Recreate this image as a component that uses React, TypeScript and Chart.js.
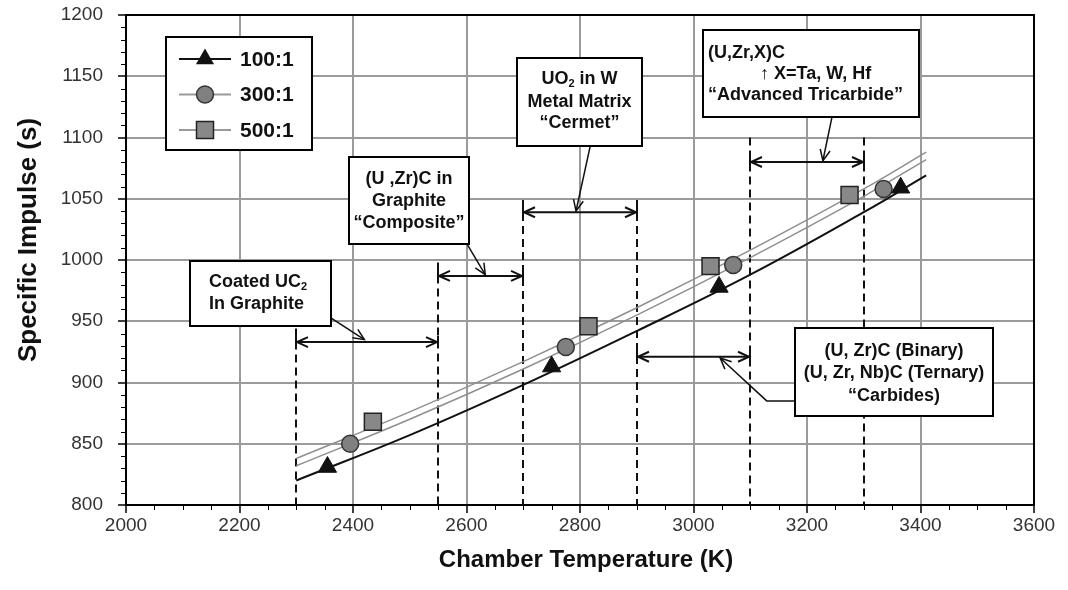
import React, { useEffect, useRef } from 'react';
import { Chart, registerables } from 'chart.js';

Chart.register(...registerables);

// ---------- data ----------
const series100X = [2355, 2750, 3045, 3365];
const series100Y = [831, 913, 978, 1059];
const series300X = [2395, 2775, 3070, 3335];
const series300Y = [850, 929, 996, 1058];
const series500X = [2435, 2815, 3030, 3275];
const series500Y = [868, 946, 995, 1053];

const curveX = [2300, 2500, 2700, 2900, 3100, 3300, 3410];
const curve100 = [820, 857, 898, 942, 988, 1039, 1069];
const curve300 = [832, 870, 911, 955, 1002, 1052, 1082];
const curve500 = [838, 876, 917, 961, 1008, 1058, 1088];

const legendLabels = ['100:1', '300:1', '500:1'];

const xMin = 2000;
const xMax = 3600;
const xStep = 200;
const xMinorStep = 50;
const yMin = 800;
const yMax = 1200;
const yStep = 50;
const yMinorStep = 10;

// technology boundaries (dashed verticals) and their top ends
const boundaryX = [2300, 2550, 2700, 2900, 3100, 3300];
const boundaryTop = [944, 998, 1049, 1049, 1100, 1100];

// temperature ranges (double arrows)
const rangeFrom = [2300, 2550, 2700, 2900, 3100];
const rangeTo = [2550, 2700, 2900, 3100, 3300];
const rangeLevel = [933, 987, 1039, 921, 1080];

// annotation boxes in data coordinates
const boxRects = [
  [2113, 999, 2361, 946],
  [2393, 1084, 2604, 1013],
  [2689, 1165, 2909, 1093],
  [3017, 1188, 3397, 1117],
  [3179, 944.5, 3528, 872.7],
];
const boxTexts = [
  ['Coated UC_2', 'In Graphite'],
  ['(U ,Zr)C in', 'Graphite', '\u201CComposite\u201D'],
  ['UO_2 in W', 'Metal Matrix', '\u201CCermet\u201D'],
  ['(U,Zr,X)C', '\u2191 X=Ta, W, Hf', '\u201CAdvanced Tricarbide\u201D'],
  ['(U, Zr)C (Binary)', '(U, Zr, Nb)C (Ternary)', '\u201CCarbides)'],
];
const leaderPaths = [
  [[2361, 952.7], [2420, 935]],
  [[2601, 1013], [2633, 988]],
  [[2818, 1093], [2793, 1040]],
  [[3244, 1116.7], [3228, 1081]],
  [[3179, 885], [3129, 885], [3047, 920]],
];
const legendRect = [2070, 1182, 2328, 1090];

// ---------- styles ----------
const FONT = "'Liberation Sans', Arial, 'DejaVu Sans', sans-serif";
const boxStyles = [
  { align: 'left', pad: 19, offsets: [21, 43] },
  { align: 'center', pad: 0, offsets: [22, 44, 66] },
  { align: 'center', pad: 0, offsets: [21, 44, 65] },
  { align: 'left', pad: 5, offsets: [23, 44, 65], indents: [0, 52, 0] },
  { align: 'center', pad: 0, offsets: [23, 45, 68] },
];

function drawRichText(ctx: CanvasRenderingContext2D, text: string, x: number, y: number, align: string, size: number) {
  const parts: { t: string; sub: boolean }[] = [];
  const re = /_(\d)/g;
  let last = 0;
  let m: RegExpExecArray | null;
  while ((m = re.exec(text))) {
    if (m.index > last) parts.push({ t: text.slice(last, m.index), sub: false });
    parts.push({ t: m[1], sub: true });
    last = m.index + m[0].length;
  }
  if (last < text.length) parts.push({ t: text.slice(last), sub: false });
  const normal = `bold ${size}px ${FONT}`;
  const small = `bold ${Math.round(size * 0.62)}px ${FONT}`;
  let total = 0;
  parts.forEach((p) => {
    ctx.font = p.sub ? small : normal;
    total += ctx.measureText(p.t).width;
  });
  let cx = align === 'center' ? x - total / 2 : x;
  ctx.textAlign = 'left';
  ctx.textBaseline = 'middle';
  parts.forEach((p) => {
    ctx.font = p.sub ? small : normal;
    ctx.fillText(p.t, cx, p.sub ? y + 5 : y);
    cx += ctx.measureText(p.t).width;
  });
}

function openHead(ctx: CanvasRenderingContext2D, fx: number, fy: number, tx: number, ty: number, len = 11, half = 5) {
  const a = Math.atan2(ty - fy, tx - fx);
  const bx = tx - Math.cos(a) * len;
  const by = ty - Math.sin(a) * len;
  const nx = -Math.sin(a) * half;
  const ny = Math.cos(a) * half;
  ctx.beginPath();
  ctx.moveTo(bx + nx, by + ny);
  ctx.lineTo(tx, ty);
  ctx.lineTo(bx - nx, by - ny);
  ctx.stroke();
}

function marker(ctx: CanvasRenderingContext2D, kind: string, cx: number, cy: number) {
  ctx.save();
  ctx.beginPath();
  if (kind === 'triangle') {
    const r = 10.5;
    ctx.moveTo(cx, cy - r);
    ctx.lineTo(cx + r * Math.sin((2 * Math.PI) / 3), cy + r / 2);
    ctx.lineTo(cx - r * Math.sin((2 * Math.PI) / 3), cy + r / 2);
    ctx.closePath();
    ctx.fillStyle = '#111';
    ctx.fill();
  } else if (kind === 'circle') {
    ctx.arc(cx, cy, 8.5, 0, Math.PI * 2);
    ctx.fillStyle = '#808080';
    ctx.fill();
    ctx.strokeStyle = '#333';
    ctx.lineWidth = 1.5;
    ctx.stroke();
  } else {
    ctx.rect(cx - 8.5, cy - 8.5, 17, 17);
    ctx.fillStyle = '#888';
    ctx.fill();
    ctx.strokeStyle = '#222';
    ctx.lineWidth = 1.5;
    ctx.stroke();
  }
  ctx.restore();
}

const annotPlugin = {
  id: 'annot',
  beforeDatasetsDraw(chart: any) {
    const { ctx, chartArea } = chart;
    const x = chart.scales.x;
    const y = chart.scales.y;
    ctx.save();
    ctx.strokeStyle = '#111';
    ctx.lineWidth = 2;
    ctx.setLineDash([8, 5]);
    boundaryX.forEach((bx, i) => {
      const px = Math.round(x.getPixelForValue(bx));
      ctx.beginPath();
      ctx.moveTo(px, y.getPixelForValue(boundaryTop[i]));
      ctx.lineTo(px, chartArea.bottom);
      ctx.stroke();
    });
    ctx.setLineDash([]);
    rangeFrom.forEach((f, i) => {
      const x1 = Math.round(x.getPixelForValue(f));
      const x2 = Math.round(x.getPixelForValue(rangeTo[i]));
      const py = y.getPixelForValue(rangeLevel[i]);
      ctx.lineWidth = 2;
      ctx.beginPath();
      ctx.moveTo(x1, py);
      ctx.lineTo(x2, py);
      ctx.stroke();
      ctx.beginPath();
      ctx.moveTo(x1, py - 6);
      ctx.lineTo(x1, py + 6);
      ctx.moveTo(x2, py - 6);
      ctx.lineTo(x2, py + 6);
      ctx.stroke();
      openHead(ctx, x2, py, x1 + 1, py);
      openHead(ctx, x1, py, x2 - 1, py);
    });
    ctx.restore();
  },
  afterDatasetsDraw(chart: any) {
    const { ctx, chartArea } = chart;
    const x = chart.scales.x;
    const y = chart.scales.y;
    ctx.save();
    // frame top/right
    ctx.strokeStyle = '#000';
    ctx.lineWidth = 2;
    ctx.beginPath();
    ctx.moveTo(chartArea.left, chartArea.top);
    ctx.lineTo(chartArea.right, chartArea.top);
    ctx.lineTo(chartArea.right, chartArea.bottom);
    ctx.stroke();

    // leaders
    ctx.strokeStyle = '#111';
    ctx.lineWidth = 1.5;
    leaderPaths.forEach((path) => {
      const pts = path.map((p) => [x.getPixelForValue(p[0]), y.getPixelForValue(p[1])]);
      ctx.beginPath();
      pts.forEach((p, i) => (i ? ctx.lineTo(p[0], p[1]) : ctx.moveTo(p[0], p[1])));
      ctx.stroke();
      const a = pts[pts.length - 2];
      const b = pts[pts.length - 1];
      openHead(ctx, a[0], a[1], b[0], b[1], 11, 5);
    });

    // boxes
    boxRects.forEach((r, i) => {
      const l = Math.round(x.getPixelForValue(r[0]));
      const t = Math.round(y.getPixelForValue(r[1]));
      const rr = Math.round(x.getPixelForValue(r[2]));
      const b = Math.round(y.getPixelForValue(r[3]));
      ctx.fillStyle = '#fff';
      ctx.fillRect(l, t, rr - l, b - t);
      ctx.strokeStyle = '#000';
      ctx.lineWidth = 2;
      ctx.strokeRect(l, t, rr - l, b - t);
      const st = boxStyles[i];
      ctx.fillStyle = '#111';
      boxTexts[i].forEach((line, j) => {
        const tx = st.align === 'center' ? (l + rr) / 2 : l + st.pad + ((st as any).indents ? (st as any).indents[j] : 0);
        drawRichText(ctx, line, tx, t + st.offsets[j], st.align, 18);
      });
    });

    // legend
    const ll = Math.round(x.getPixelForValue(legendRect[0]));
    const lt = Math.round(y.getPixelForValue(legendRect[1]));
    const lr = Math.round(x.getPixelForValue(legendRect[2]));
    const lb = Math.round(y.getPixelForValue(legendRect[3]));
    ctx.fillStyle = '#fff';
    ctx.fillRect(ll, lt, lr - ll, lb - lt);
    ctx.strokeStyle = '#000';
    ctx.lineWidth = 2;
    ctx.strokeRect(ll, lt, lr - ll, lb - lt);
    const kinds = ['triangle', 'circle', 'rect'];
    const lineColors = ['#111', '#999', '#999'];
    legendLabels.forEach((lab, i) => {
      const cy = lt + 22 + i * 35.5;
      ctx.strokeStyle = lineColors[i];
      ctx.lineWidth = 2;
      ctx.beginPath();
      ctx.moveTo(ll + 13, cy);
      ctx.lineTo(ll + 65, cy);
      ctx.stroke();
      marker(ctx, kinds[i], ll + 39, cy);
      ctx.fillStyle = '#111';
      ctx.font = `bold 21px ${FONT}`;
      ctx.textAlign = 'left';
      ctx.textBaseline = 'middle';
      ctx.fillText(lab, ll + 74, cy + 1);
    });
    ctx.restore();
  },
  afterDraw(chart: any) {
    const { ctx, chartArea } = chart;
    const x = chart.scales.x;
    const y = chart.scales.y;
    ctx.save();
    ctx.strokeStyle = '#000';
    ctx.lineWidth = 1;
    for (let v = yMin; v <= yMax; v += yMinorStep) {
      if (v % yStep === 0) continue;
      const py = Math.round(y.getPixelForValue(v)) + 0.5;
      ctx.beginPath();
      ctx.moveTo(chartArea.left - 5, py);
      ctx.lineTo(chartArea.left, py);
      ctx.stroke();
    }
    for (let v = xMin; v <= xMax; v += xMinorStep) {
      if (v % xStep === 0) continue;
      const px = Math.round(x.getPixelForValue(v)) + 0.5;
      ctx.beginPath();
      ctx.moveTo(px, chartArea.bottom);
      ctx.lineTo(px, chartArea.bottom + 5);
      ctx.stroke();
    }
    ctx.fillStyle = '#111';
    ctx.textAlign = 'center';
    ctx.textBaseline = 'middle';
    ctx.font = `bold 24px ${FONT}`;
    ctx.fillText('Chamber Temperature (K)', 586, 560);
    ctx.translate(29, 240);
    ctx.rotate(-Math.PI / 2);
    ctx.font = `bold 26px ${FONT}`;
    ctx.fillText('Specific Impulse (s)', 0, 0);
    ctx.restore();
  },
};

const toPts = (xs: number[], ys: number[]) => xs.map((v, i) => ({ x: v, y: ys[i] }));

export default function App() {
  const ref = useRef<HTMLCanvasElement | null>(null);
  useEffect(() => {
    document.body.style.margin = '0';
    const canvas = ref.current;
    if (!canvas) return;
    const chart = new Chart(canvas, {
      type: 'scatter',
      data: {
        datasets: [
          {
            label: '100:1', data: toPts(series100X, series100Y), pointStyle: 'triangle', pointRadius: 10.5,
            backgroundColor: '#111', borderColor: '#111', borderWidth: 1, showLine: false, order: 0,
          },
          {
            label: '300:1', data: toPts(series300X, series300Y), pointStyle: 'circle', pointRadius: 8.5,
            backgroundColor: '#808080', borderColor: '#333', borderWidth: 1.5, showLine: false, order: 0,
          },
          {
            label: '500:1', data: toPts(series500X, series500Y), pointStyle: 'rect', pointRadius: 12,
            backgroundColor: '#888', borderColor: '#222', borderWidth: 1.5, showLine: false, order: 0,
          },
          {
            label: 'fit 100:1', data: toPts(curveX, curve100), showLine: true, pointRadius: 0,
            borderColor: '#111', borderWidth: 2, tension: 0.4, order: 1,
          },
          {
            label: 'fit 300:1', data: toPts(curveX, curve300), showLine: true, pointRadius: 0,
            borderColor: '#8f8f8f', borderWidth: 1.5, tension: 0.4, order: 1,
          },
          {
            label: 'fit 500:1', data: toPts(curveX, curve500), showLine: true, pointRadius: 0,
            borderColor: '#8f8f8f', borderWidth: 1.5, tension: 0.4, order: 1,
          },
        ],
      } as any,
      options: {
        animation: false,
        responsive: false,
        devicePixelRatio: 1,
        layout: { padding: { top: 15, right: 34, left: 0, bottom: 0 } },
        plugins: { legend: { display: false }, tooltip: { enabled: false } },
        scales: {
          x: {
            type: 'linear', min: xMin, max: xMax,
            afterFit: (s: any) => { s.height = 85; s.paddingLeft = 0; s.paddingRight = 0; },
            ticks: {
              stepSize: xStep, padding: 1, color: '#333',
              font: { family: FONT, size: 19 },
              callback: (v: any) => String(v),
            },
            grid: { color: '#9b9b9b', lineWidth: 2, tickLength: 8, tickColor: '#000', tickWidth: 1.5 },
            border: { color: '#000', width: 2 },
          },
          y: {
            type: 'linear', min: yMin, max: yMax,
            afterFit: (s: any) => { s.width = 126; s.paddingTop = 0; s.paddingBottom = 0; },
            ticks: {
              stepSize: yStep, padding: 15, color: '#333',
              font: { family: FONT, size: 19 },
              callback: (v: any) => String(v),
            },
            grid: { color: '#9b9b9b', lineWidth: 2, tickLength: 8, tickColor: '#000', tickWidth: 1.5 },
            border: { color: '#000', width: 2 },
          },
        },
      } as any,
      plugins: [annotPlugin],
    });
    return () => chart.destroy();
  }, []);
  return (
    <div style={{ position: 'absolute', left: 0, top: 0, width: 1068, height: 590, background: '#fff' }}>
      <canvas ref={ref} width={1068} height={590} />
    </div>
  );
}
